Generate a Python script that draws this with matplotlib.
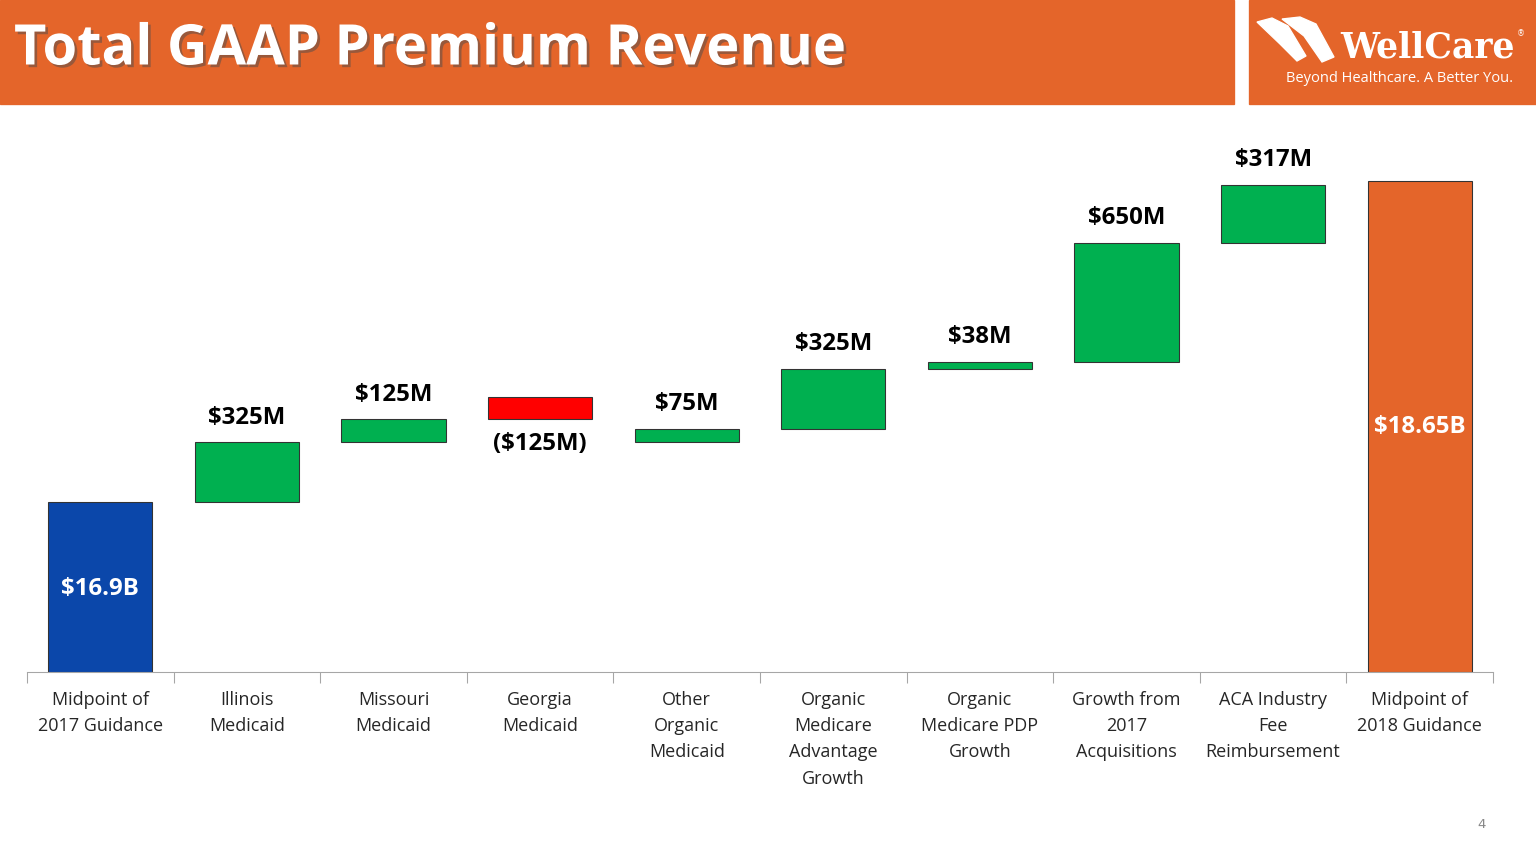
import matplotlib.pyplot as plt
from matplotlib.patches import Rectangle, Polygon
import matplotlib.patheffects as pe

categories = ["Midpoint of\n2017 Guidance", "Illinois\nMedicaid", "Missouri\nMedicaid",
              "Georgia\nMedicaid", "Other\nOrganic\nMedicaid", "Organic\nMedicare\nAdvantage\nGrowth",
              "Organic\nMedicare PDP\nGrowth", "Growth from\n2017\nAcquisitions",
              "ACA Industry\nFee\nReimbursement", "Midpoint of\n2018 Guidance"]
start_value = 16.9
end_value = 18.65
deltas = [0.325, 0.125, -0.125, 0.075, 0.325, 0.038, 0.65, 0.317]
value_labels = ["$16.9B", "$325M", "$125M", "($125M)", "$75M", "$325M", "$38M",
                "$650M", "$317M", "$18.65B"]

ORANGE = "#E4652A"
BLUE = "#0B47AA"
GREEN = "#00B050"
RED = "#FF0000"

fig = plt.figure(figsize=(16, 9), dpi=96)
W, H = 1536, 864

# header
hdr = fig.add_axes([0, 0, 1, 1], zorder=0)
hdr.set_xlim(0, W)
hdr.set_ylim(H, 0)
hdr.axis("off")
hdr.add_patch(Rectangle((0, 0), 1234, 104, color=ORANGE))
hdr.add_patch(Rectangle((1249, 0), 287, 104, color=ORANGE))
hdr.text(14, 50, "Total GAAP Premium Revenue", color="white", fontsize=42,
         fontweight="bold", family="Open Sans", va="center", ha="left",
         path_effects=[pe.withSimplePatchShadow(offset=(2, -2), alpha=0.5)])
# logo swoosh
hdr.add_patch(Polygon([(1257, 22), (1272, 18), (1288, 26), (1306, 56), (1297, 61),
                       (1280, 44)], closed=True, color="white"))
hdr.add_patch(Polygon([(1282, 19), (1300, 17), (1316, 24), (1334, 57), (1322, 62),
                       (1304, 36)], closed=True, color="white"))
hdr.text(1427, 47, "WellCare", color="white", fontsize=26, fontweight="bold",
         family="DejaVu Serif", ha="center", va="center")
hdr.text(1521, 34, "®", color="white", fontsize=6, ha="center", va="center")
hdr.text(1400, 78, "Beyond Healthcare. A Better You.", color="white", fontsize=11,
         family="Open Sans", ha="center", va="center")
hdr.text(1482, 824, "4", color="#888888", fontsize=10, ha="center", va="center")

# waterfall
px_per_b = 183.4
y0 = 16.9 - (672 - 502) / px_per_b
y1 = y0 + (672 - 110) / px_per_b
ax = fig.add_axes([27 / W, 1 - 672 / H, (1493 - 27) / W, (672 - 110) / H], zorder=1)
ax.patch.set_alpha(0)
ax.set_xlim(-0.5, len(categories) - 0.5)
ax.set_ylim(y0, y1)

bw = 0.71
ec = "#333333"
lbl_kw = dict(fontsize=18, fontweight="bold", ha="center", family="Open Sans")
ax.bar(0, start_value - y0, bottom=y0, width=bw, color=BLUE, edgecolor=ec, linewidth=0.8)
ax.text(0, 16.425, value_labels[0], color="white", va="center", **lbl_kw)
running = start_value
for i, d in enumerate(deltas, start=1):
    lbl = value_labels[i]
    if d >= 0:
        ax.bar(i, d, bottom=running, width=bw, color=GREEN, edgecolor=ec, linewidth=0.8)
        ax.text(i, running + d + 0.07, lbl, va="bottom", **lbl_kw)
    else:
        ax.bar(i, -d, bottom=running, width=bw, color=RED, edgecolor=ec, linewidth=0.8)
        ax.text(i, running - 0.07, lbl, va="top", **lbl_kw)
    running += d
n = len(categories) - 1
ax.bar(n, end_value - y0, bottom=y0, width=bw, color=ORANGE, edgecolor=ec, linewidth=0.8)
ax.text(n, 17.31, value_labels[-1], color="white", va="center", **lbl_kw)

for s in ["top", "right", "left"]:
    ax.spines[s].set_visible(False)
ax.spines["bottom"].set_color("#A6A6A6")
ax.set_yticks([])
ax.set_xticks([i - 0.5 for i in range(len(categories) + 1)], minor=False)
ax.set_xticklabels([])
ax.tick_params(axis="x", which="major", length=8, color="#A6A6A6", direction="out")
ax.set_xticks(range(len(categories)), minor=True)
ax.set_xticklabels(categories, minor=True, fontsize=13.5, color="#262626",
                   family="Open Sans", linespacing=1.6)
ax.tick_params(axis="x", which="minor", length=0, pad=14)

fig.savefig("out.png", dpi=96)
